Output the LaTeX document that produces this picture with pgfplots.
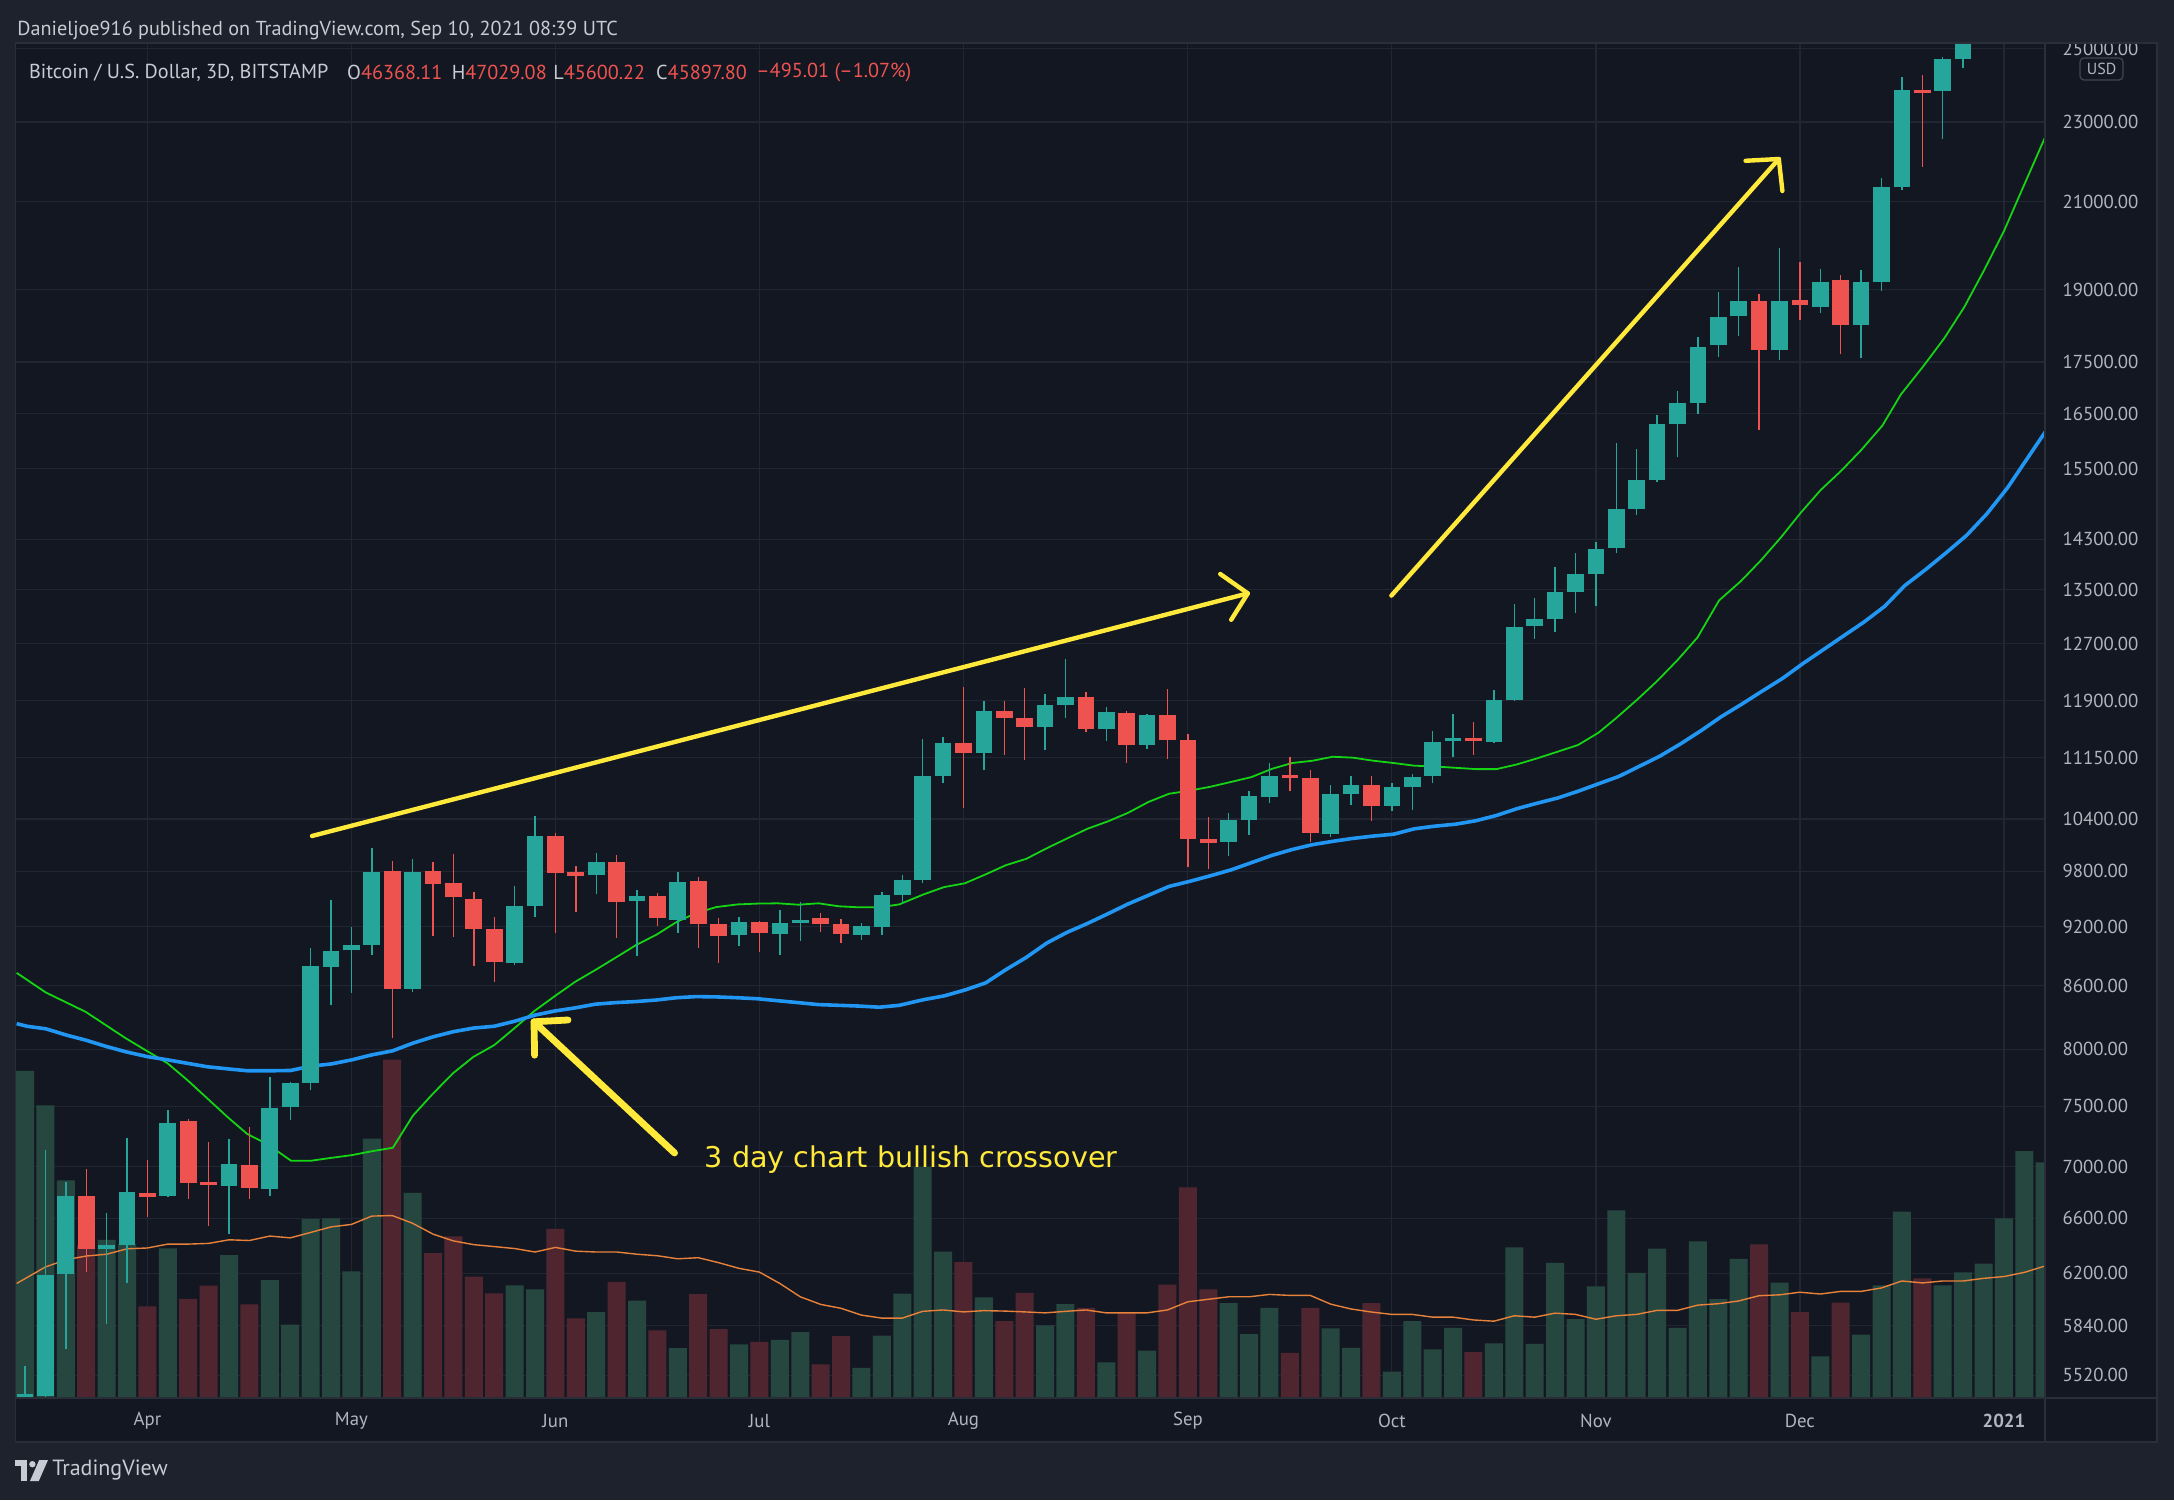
\documentclass[border=0pt]{standalone}
\usepackage{pgfplots}
\pgfplotsset{compat=1.18}
\usepackage{fontspec}
\setmainfont{PT Sans}
\newfontfamily\annfont{DejaVu Sans}
\definecolor{outerbg}{HTML}{1E222D}
\definecolor{panebg}{HTML}{131722}
\definecolor{gridc}{HTML}{222632}
\definecolor{sepc}{HTML}{2A2E39}
\definecolor{tickc}{HTML}{B2B5BE}
\definecolor{hdrc}{HTML}{C8CBD3}
\definecolor{upc}{HTML}{26A69A}
\definecolor{dnc}{HTML}{EF5350}
\definecolor{volg}{HTML}{25473F}
\definecolor{volr}{HTML}{4F2630}
\definecolor{mafast}{HTML}{14D414}
\definecolor{maslow}{HTML}{2196F3}
\definecolor{vma}{HTML}{E8823A}
\definecolor{ann}{HTML}{FFE93B}
\definecolor{badge}{HTML}{434651}

% colour, index, open, high, low, close
\newcommand\cndl[6]{%
  \addplot[draw=#1, line width=0.7pt] coordinates {(#2,#5) (#2,#4)};%
  \addplot[draw=#1, line width=8.35pt] coordinates {(#2,#3) (#2,#6)};%
}
\pgfplotsset{
  tvframe/.style={
    scale only axis, width=1014.75pt, height=677.5pt,
    at={(7.75pt,51pt)}, anchor=south west,
    xmin=-0.466, xmax=99.02,
    axis line style={draw=none}, tick style={draw=none},
  },
}
\begin{document}
\begin{tikzpicture}
\useasboundingbox (0,0) rectangle (1087pt,750pt);
\fill[outerbg] (0,0) rectangle (1087pt,750pt);
\fill[panebg] (7.75pt,29pt) rectangle (1078.5pt,728.5pt);

% ---------- grid and tick labels ----------
\begin{axis}[tvframe, ymode=log, ymin=5379, ymax=25166,
  xtick={6,16,26,36,46,57,67,77,87,97},
  xticklabels={Apr,May,Jun,Jul,Aug,Sep,Oct,Nov,Dec,\textbf{2021}},
  ytick={5520,5840,6200,6600,7000,7500,8000,8600,9200,9800,10400,11150,11900,12700,13500,14300,15500,16500,17500,19000,21000,23000,25000},
  yticklabels={5520.00,5840.00,6200.00,6600.00,7000.00,7500.00,8000.00,8600.00,9200.00,9800.00,10400.00,11150.00,11900.00,12700.00,13500.00,14300.00,15500.00,16500.00,17500.00,19000.00,21000.00,23000.00,25000.00},
  yticklabel pos=right,
  xmajorgrids, ymajorgrids,
  major grid style={draw=gridc, line width=0.6pt},
  tick label style={font=\fontsize{9.4}{11}\selectfont, text=tickc, inner sep=0pt},
  yticklabel style={anchor=west, xshift=8.5pt},
  xticklabel style={anchor=center, yshift=-11.5pt},
]
\addplot[draw=none, forget plot] coordinates {(0,6000) (1,6000)};
\end{axis}

% ---------- volume ----------
\begin{axis}[tvframe, ymin=0, ymax=977.3, xtick=\empty, ytick=\empty]
\addplot[ybar, bar width=9pt, bar shift=0pt, fill=volg, draw=none] coordinates {
(0,236) (1,211) (2,157) (4,114) (5,111) (7,108) (10,103) (12,85) (13,53) (14,129) (15,129.5) (16,91.4) (17,187) (19,148) (24,81.2) (25,78.4) (28,62) (30,70.3) (32,36) (35,38.7) (37,42) (38,47.5) (41,21.7) (42,45) (43,75.2) (44,166.5) (45,105.6) (47,72.6) (50,52.3) (51,67.7) (53,25.7) (55,34.1) (59,68.4) (60,46) (61,65) (64,50.2) (65,36.2) (67,19) (68,55.4) (69,35) (70,50.5) (72,39.4) (73,108.6) (74,39) (75,97.5) (76,56.8) (77,80.5) (78,135.3) (79,90.2) (80,107.7) (81,50.5) (82,113) (83,71.4) (84,100.4) (86,83.2) (88,30.1) (90,45.7) (91,81.3) (92,134.4) (94,81.3) (95,90.6) (96,97) (97,129.5) (98,178) (99,170)};
\addplot[ybar, bar width=9pt, bar shift=0pt, fill=volr, draw=none] coordinates {
(3,110) (6,66) (8,71.5) (9,81) (11,67.5) (18,244) (20,104.5) (21,116.6) (22,87.5) (23,75.5) (26,122) (27,57.4) (29,83.7) (31,48.7) (33,75) (34,49.7) (36,40.4) (39,24.2) (40,44.7) (46,98) (48,55.5) (49,75.8) (52,65) (54,61.4) (56,81.7) (57,152) (58,78.3) (62,32.6) (63,65) (66,68.4) (71,33) (85,110.8) (87,62) (89,68.8) (93,86.3)};
\addplot[vma, line width=0.7pt] coordinates {
(-0.41,82.6) (1,94.5) (2,99.7) (3,102.4) (4,103.7) (5,107.6) (6,108.2) (7,111) (8,111) (9,111.5) (10,114.1) (11,113.6) (12,116.8) (13,115.5) (14,119.4) (15,123.4) (16,125.2) (17,131.2) (18,131.6) (19,126) (20,118.2) (21,113.3) (22,110.6) (23,109.2) (24,107.8) (25,105.3) (26,108.6) (27,105.9) (28,105.3) (29,105.3) (30,103.7) (31,102.6) (32,100.4) (33,101.2) (34,97.6) (35,93.5) (36,90.8) (37,82.6) (38,73) (39,67.5) (40,64.7) (41,59.8) (42,57.6) (43,57.6) (44,62.5) (45,63.5) (46,62.1) (47,63) (48,62.7) (49,62.1) (50,61.4) (51,62.5) (52,63.5) (53,61.4) (54,61.4) (55,61.4) (56,63.5) (57,69.4) (58,71.2) (59,73) (60,73) (61,74.7) (62,74) (63,74) (64,67.7) (65,64.2) (66,62) (67,60.3) (68,60.3) (69,58.3) (70,58.3) (71,56.3) (72,55.4) (73,59.3) (74,58.3) (75,61.2) (76,60.3) (77,56.8) (78,59.3) (79,60.3) (80,63.2) (81,63.2) (82,67) (83,68) (84,70) (85,73.8) (86,74.4) (87,76.3) (88,75) (89,76.9) (90,76.9) (91,79.4) (92,84.4) (93,83) (94,84.4) (95,84.4) (96,86.3) (97,87.6) (98,90.6) (99.1,95.6)};
\end{axis}

% ---------- price ----------
\begin{axis}[tvframe, ymode=log, ymin=5379, ymax=25166, xtick=\empty, ytick=\empty]
\addplot[mafast, line width=0.9pt] coordinates {
(-0.41,8728) (1.02,8535) (2.98,8348) (4.94,8101) (6.99,7875) (7.96,7726) (9.94,7405) (10.89,7266) (11.9,7179) (13.04,7047) (14.02,7047) (15.0,7070) (16.02,7092) (17.05,7125) (18.03,7152) (19.01,7418) (19.99,7606) (20.99,7788) (21.98,7933) (23.0,8038) (24.0,8196) (24.97,8357) (25.97,8500) (26.98,8641) (27.97,8758) (28.94,8879) (29.94,9007) (30.94,9114) (31.92,9246) (32.9,9343) (33.89,9407) (34.93,9435) (35.93,9444) (36.91,9447) (37.9,9432) (38.89,9447) (39.89,9415) (40.87,9404) (41.87,9404) (42.85,9435) (44.04,9543) (45.05,9623) (46.07,9665) (47.09,9764) (48.08,9866) (49.08,9938) (50.09,10059) (51.08,10171) (52.08,10284) (53.08,10371) (54.07,10473) (55.07,10603) (56.07,10702) (57.07,10740) (58.09,10787) (59.11,10847) (60.11,10907) (61.11,11009) (62.1,11083) (63.1,11112) (64.1,11163) (65.1,11151) (66.1,11112) (67.1,11083) (68.09,11050) (69.09,11040) (70.13,11023) (71.11,11007) (72.13,11007) (73.13,11066) (74.11,11142) (75.12,11227) (76.13,11314) (77.12,11471) (77.98,11662) (79.03,11914) (80.01,12170) (81.0,12462) (81.98,12787) (83.04,13339) (84.1,13632) (85.08,13958) (86.06,14327) (87.04,14738) (88.02,15126) (89.0,15452) (89.98,15820) (91.04,16276) (91.95,16864) (93.0,17390) (94.07,17975) (95.05,18624) (96.03,19430) (97.01,20320) (97.99,21407) (98.97,22545) (99.1,22700)};
\addplot[maslow, line width=1.8pt] coordinates {
(-0.41,8237) (0.12,8212) (1.02,8189) (2.08,8128) (2.98,8084) (3.96,8027) (4.95,7978) (6.01,7934) (6.99,7905) (7.97,7875) (8.95,7843) (9.94,7825) (10.92,7808) (12.02,7808) (13.02,7810) (14.02,7849) (15.02,7869) (16.02,7905) (17.01,7951) (18.01,7987) (19.01,8056) (19.99,8114) (20.99,8162) (21.99,8196) (23.0,8213) (24.0,8260) (24.98,8317) (25.97,8357) (26.98,8387) (27.96,8422) (28.94,8437) (29.94,8447) (30.94,8462) (31.92,8484) (32.9,8495) (33.9,8492) (34.93,8484) (35.93,8474) (36.91,8455) (37.9,8437) (38.89,8418) (39.89,8411) (40.87,8404) (41.87,8393) (42.85,8411) (44.04,8465) (45.06,8502) (46.07,8559) (47.09,8629) (48.08,8760) (49.08,8883) (50.09,9030) (51.08,9140) (52.08,9233) (53.08,9335) (54.07,9440) (55.07,9534) (56.07,9630) (57.07,9685) (58.09,9747) (59.11,9813) (60.11,9894) (61.11,9976) (62.1,10043) (63.1,10099) (64.1,10138) (65.1,10172) (66.1,10199) (67.1,10221) (68.09,10283) (69.09,10314) (70.13,10338) (71.11,10378) (72.13,10441) (73.13,10522) (74.11,10587) (75.13,10651) (76.13,10733) (77.12,10824) (78.12,10915) (79.12,11041) (80.12,11168) (81.12,11323) (82.15,11499) (83.14,11683) (84.14,11850) (85.14,12027) (86.15,12205) (87.15,12413) (88.15,12611) (89.15,12812) (90.15,13016) (91.15,13247) (92.14,13565) (93.14,13810) (94.18,14085) (95.17,14364) (96.17,14723) (97.18,15165) (98.18,15697) (99.1,16201)};
\cndl{upc}{0}{5300}{5577}{4900}{5405}
\cndl{upc}{1}{5390}{7130}{5383}{6190}
\cndl{upc}{2}{6195}{6881}{5686}{6768}
\cndl{dnc}{3}{6768}{6980}{6205}{6372}
\cndl{upc}{4}{6372}{6640}{5850}{6400}
\cndl{upc}{5}{6400}{7235}{6130}{6800}
\cndl{dnc}{6}{6795}{7050}{6610}{6765}
\cndl{upc}{7}{6770}{7470}{6760}{7360}
\cndl{dnc}{8}{7370}{7390}{6750}{6874}
\cndl{dnc}{9}{6880}{7200}{6545}{6855}
\cndl{upc}{10}{6850}{7220}{6480}{7020}
\cndl{dnc}{11}{7015}{7320}{6750}{6830}
\cndl{upc}{12}{6825}{7750}{6770}{7480}
\cndl{upc}{13}{7490}{7710}{7380}{7695}
\cndl{upc}{14}{7700}{8975}{7640}{8793}
\cndl{upc}{15}{8790}{9483}{8410}{8950}
\cndl{upc}{16}{8960}{9200}{8530}{9010}
\cndl{upc}{17}{9010}{10065}{8910}{9790}
\cndl{dnc}{18}{9800}{9910}{8100}{8570}
\cndl{upc}{19}{8570}{9940}{8540}{9790}
\cndl{dnc}{20}{9800}{9897}{9104}{9655}
\cndl{dnc}{21}{9665}{9990}{9090}{9513}
\cndl{dnc}{22}{9490}{9567}{8800}{9170}
\cndl{dnc}{23}{9170}{9302}{8635}{8835}
\cndl{upc}{24}{8830}{9630}{8805}{9420}
\cndl{upc}{25}{9420}{10440}{9300}{10195}
\cndl{dnc}{26}{10195}{10240}{9130}{9780}
\cndl{dnc}{27}{9790}{9860}{9350}{9745}
\cndl{upc}{28}{9755}{10000}{9545}{9900}
\cndl{dnc}{29}{9900}{9980}{9080}{9465}
\cndl{upc}{30}{9470}{9595}{8895}{9525}
\cndl{dnc}{31}{9525}{9560}{9210}{9290}
\cndl{upc}{32}{9270}{9790}{9130}{9680}
\cndl{dnc}{33}{9690}{9730}{8980}{9228}
\cndl{dnc}{34}{9230}{9290}{8830}{9105}
\cndl{upc}{35}{9110}{9300}{9000}{9250}
\cndl{dnc}{36}{9250}{9260}{8935}{9130}
\cndl{upc}{37}{9125}{9370}{8910}{9240}
\cndl{upc}{38}{9240}{9465}{9050}{9265}
\cndl{dnc}{39}{9290}{9345}{9145}{9225}
\cndl{dnc}{40}{9225}{9280}{9030}{9120}
\cndl{upc}{41}{9115}{9235}{9060}{9210}
\cndl{upc}{42}{9200}{9567}{9115}{9537}
\cndl{upc}{43}{9537}{9757}{9435}{9705}
\cndl{upc}{44}{9705}{11385}{9665}{10920}
\cndl{upc}{45}{10920}{11420}{10840}{11340}
\cndl{dnc}{46}{11340}{12085}{10530}{11210}
\cndl{upc}{47}{11210}{11900}{10990}{11755}
\cndl{dnc}{48}{11755}{11900}{11190}{11660}
\cndl{dnc}{49}{11660}{12070}{11120}{11550}
\cndl{upc}{50}{11550}{11985}{11250}{11840}
\cndl{upc}{51}{11840}{12470}{11660}{11950}
\cndl{dnc}{52}{11950}{12020}{11480}{11520}
\cndl{upc}{53}{11520}{11820}{11360}{11740}
\cndl{dnc}{54}{11735}{11755}{11090}{11315}
\cndl{upc}{55}{11315}{11720}{11260}{11700}
\cndl{dnc}{56}{11700}{12060}{11130}{11380}
\cndl{dnc}{57}{11380}{11460}{9850}{10160}
\cndl{dnc}{58}{10160}{10425}{9820}{10120}
\cndl{upc}{59}{10130}{10470}{9970}{10385}
\cndl{upc}{60}{10385}{10740}{10210}{10670}
\cndl{upc}{61}{10660}{11090}{10590}{10920}
\cndl{dnc}{62}{10935}{11160}{10730}{10895}
\cndl{dnc}{63}{10900}{10990}{10130}{10230}
\cndl{upc}{64}{10220}{10810}{10190}{10700}
\cndl{upc}{65}{10700}{10920}{10570}{10810}
\cndl{dnc}{66}{10810}{10920}{10370}{10560}
\cndl{upc}{67}{10560}{10830}{10490}{10785}
\cndl{upc}{68}{10785}{10940}{10505}{10910}
\cndl{upc}{69}{10915}{11490}{10830}{11350}
\cndl{upc}{70}{11360}{11720}{11165}{11400}
\cndl{dnc}{71}{11410}{11610}{11190}{11360}
\cndl{upc}{72}{11350}{12040}{11340}{11910}
\cndl{upc}{73}{11910}{13280}{11900}{12935}
\cndl{upc}{74}{12960}{13370}{12770}{13060}
\cndl{upc}{75}{13060}{13850}{12870}{13460}
\cndl{upc}{76}{13460}{14080}{13150}{13750}
\cndl{upc}{77}{13750}{14250}{13250}{14140}
\cndl{upc}{78}{14160}{15950}{14080}{14800}
\cndl{upc}{79}{14800}{15840}{14700}{15300}
\cndl{upc}{80}{15300}{16480}{15270}{16310}
\cndl{upc}{81}{16310}{16920}{15700}{16710}
\cndl{upc}{82}{16710}{18000}{16500}{17800}
\cndl{upc}{83}{17850}{18960}{17600}{18430}
\cndl{upc}{84}{18440}{19510}{18030}{18750}
\cndl{dnc}{85}{18750}{18900}{16200}{17730}
\cndl{upc}{86}{17730}{19930}{17530}{18750}
\cndl{dnc}{87}{18780}{19610}{18360}{18680}
\cndl{upc}{88}{18640}{19450}{18500}{19170}
\cndl{dnc}{89}{19210}{19320}{17650}{18260}
\cndl{upc}{90}{18260}{19430}{17570}{19170}
\cndl{upc}{91}{19170}{21580}{18980}{21350}
\cndl{upc}{92}{21350}{24210}{21280}{23840}
\cndl{dnc}{93}{23860}{24250}{21840}{23780}
\cndl{upc}{94}{23820}{24750}{22560}{24700}
\cndl{upc}{95}{24700}{28000}{24450}{26300}
\end{axis}

% ---------- frame, header, legend ----------
\fill[outerbg] (0,728.5pt) rectangle (1087pt,750pt);
\draw[sepc, line width=0.6pt] (7.75pt,51pt) -- (1078.5pt,51pt);
\draw[sepc, line width=0.6pt] (1022.5pt,29pt) -- (1022.5pt,728.5pt);
\draw[sepc, line width=0.6pt] (7.75pt,29pt) rectangle (1078.5pt,728.5pt);

\node[anchor=west, inner sep=0pt, text=hdrc, font=\fontsize{10.1}{12}\selectfont] at (8.5pt,735pt)
  {Danieljoe916 published on TradingView.com, Sep 10, 2021 08:39 UTC};
\begin{scope}[every node/.style={anchor=west, inner sep=0pt, font=\fontsize{10.1}{12}\selectfont}]
\node[text=hdrc] at (14.35pt,713.7pt) {Bitcoin / U.S. Dollar, 3D, BITSTAMP};
\node[text=hdrc] at (173.4pt,713.7pt) {O\textcolor{dnc}{46368.11}};
\node[text=hdrc] at (225.7pt,713.7pt) {H\textcolor{dnc}{47029.08}};
\node[text=hdrc] at (276.5pt,713.7pt) {L\textcolor{dnc}{45600.22}};
\node[text=hdrc] at (327.9pt,713.7pt) {C\textcolor{dnc}{45897.80}};
\node[text=dnc] at (378pt,713.7pt) {–495.01 (–1.07\%)};
\end{scope}

\draw[badge, fill=panebg, rounded corners=2pt, line width=0.6pt] (1040pt,710pt) rectangle (1061.5pt,721pt);
\node[text=tickc, inner sep=0pt, font=\fontsize{8}{9}\selectfont] at (1050.75pt,715.5pt) {USD};

% ---------- annotations ----------
\begin{scope}[draw=ann, line cap=round, line join=round]
\draw[line width=2.2pt] (156.0pt,332.0pt) -- (623.9pt,453.3pt);
\draw[line width=2.2pt] (610.1pt,463.0pt) -- (623.9pt,453.3pt) -- (615.6pt,440.1pt);
\draw[line width=2.2pt] (695.7pt,452.2pt) -- (889.4pt,670.5pt);
\draw[line width=2.2pt] (872.8pt,669.6pt) -- (889.4pt,670.5pt) -- (891.2pt,654.5pt);
\draw[line width=3.4pt] (337.3pt,173.5pt) -- (267.0pt,239.1pt);
\draw[line width=3.4pt] (284.0pt,240.0pt) -- (267.0pt,239.1pt) -- (267.3pt,222.4pt);
\end{scope}
\node[anchor=base west, inner sep=0pt, text=ann, font=\annfont\fontsize{14.3}{16}\selectfont] at (352.2pt,166.3pt)
  {3 day chart bullish crossover};

% ---------- footer ----------
\fill[hdrc] (7.5pt,17pt) rectangle (13.5pt,20pt);
\fill[hdrc] (10.5pt,9.5pt) rectangle (13.5pt,20pt);
\fill[hdrc] (16.2pt,17.9pt) circle (1.6pt);
\fill[hdrc] (19.6pt,20pt) -- (24pt,20pt) -- (19.4pt,9.5pt) -- (15pt,9.5pt) -- cycle;
\node[anchor=west, inner sep=0pt, text=hdrc, font=\fontsize{11}{13}\selectfont] at (26pt,14.75pt) {TradingView};
\end{tikzpicture}
\end{document}
